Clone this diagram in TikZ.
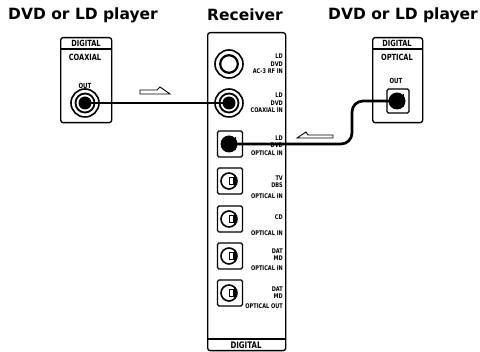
\documentclass[tikz,border=0pt]{standalone}
\usepackage{fontspec}
\setmainfont{DejaVu Sans}
\newfontfamily\tinyf{DejaVu Sans}[FakeStretch=0.78]
\begin{document}
\begin{tikzpicture}[x=1pt,y=-1pt,
  title/.style={font=\fontsize{15.5}{16}\selectfont\bfseries, inner sep=0},
  lbl/.style={font=\tinyf\fontsize{6.4}{7.4}\selectfont\bfseries, align=right, anchor=east, inner sep=0},
  hdr/.style={font=\tinyf\fontsize{8.5}{8.5}\selectfont\bfseries, inner sep=0},
  panel/.style={draw, line width=1.3pt, rounded corners=2.5pt},
  cable/.style={line width=2.7pt},
  coaxjack/.style={circle, draw, line width=1.6pt, fill=white, minimum size=28pt, inner sep=0},
  optbox/.style={draw, line width=1.3pt, rounded corners=1.5pt, fill=white, minimum width=25pt, minimum height=26pt, inner sep=0},
  arrowshape/.style={draw, fill=white, line width=0.9pt, line join=miter},
  optempty/.pic={
    \draw[line width=1.6pt] (-1,0) circle[radius=8];
    \draw[line width=1.3pt] (5,-6) -- (5,6);
    \draw[line width=1pt] (-1,-3.5) rectangle (3,3.5);
  },
  optfull/.pic={
    \fill (-1,0) circle[radius=8.5];
    \draw[line width=1.3pt] (5.5,-6.5) -- (5.5,6.5);
  }
]
\useasboundingbox (0,0) rectangle (480,352);

% titles
\node[title] (t1) at (83,15) {DVD or LD player};
\node[title] (t2) at (245,15) {Receiver};
\node[title] (t3) at (403,15) {DVD or LD player};

% left player
\node[panel, minimum width=51pt, minimum height=85pt, anchor=north west] (lp) at (60,37) {};
\draw[line width=1.2pt] (lp.north west |- 0,49) -- (lp.north east |- 0,49);
\node[hdr] (lpd) at (86,43) {DIGITAL};
\node[hdr] (lpc) at (85,57) {COAXIAL};
\node[hdr, font=\tinyf\fontsize{7}{7}\selectfont\bfseries] (lpo) at (85,86) {OUT};
\node[coaxjack] (ljack) at (85,103) {};
\draw[line width=1.8pt] (ljack.center) circle[radius=9.5];

% right player
\node[panel, minimum width=50pt, minimum height=85pt, anchor=north west] (rp) at (372,37) {};
\draw[line width=1.2pt] (rp.north west |- 0,49) -- (rp.north east |- 0,49);
\node[hdr] (rpd) at (397,43) {DIGITAL};
\node[hdr] (rpc) at (397,57) {OPTICAL};
\node[hdr, font=\tinyf\fontsize{7}{7}\selectfont\bfseries] (rpo) at (396,81) {OUT};
\node[optbox, minimum width=22pt, minimum height=24pt] (rjack) at (398,101) {};

% receiver panel
\node[panel, minimum width=78pt, minimum height=318pt, anchor=north west] (rcv) at (207,32) {};
\draw[line width=1.2pt] (rcv.south west |- 0,339) -- (rcv.south east |- 0,339);
\node[hdr, font=\tinyf\fontsize{9}{9}\selectfont\bfseries] (rcvd) at (246,345) {DIGITAL};

% receiver jacks
\node[coaxjack] (rac) at (229,64) {};
\draw[line width=2.2pt] (rac.center) circle[radius=8.8];
\node[coaxjack] (rcoax) at (229,103) {};
\draw[line width=1.8pt] (rcoax.center) circle[radius=9.5];

\node[optbox] (o1) at (230,144) {};
\node[optbox] (o2) at (230,181) {};
\node[optbox] (o3) at (230,219) {};
\node[optbox] (o4) at (230,256) {};
\node[optbox] (o5) at (230,293) {};
\pic at (o2.center) {optempty};
\pic at (o3.center) {optempty};
\pic at (o4.center) {optempty};
\pic at (o5.center) {optempty};

% labels
\node[lbl] (l1) at (283,64) {LD\\DVD\\AC-3 RF IN};
\node[lbl] (l2) at (283,103) {LD\\DVD\\COAXIAL IN};
\node[lbl] (l3) at (283,145.5) {LD\\DVD\\OPTICAL IN};
\node[lbl] (l4) at (283,187) {TV\\DBS\\[3pt]OPTICAL IN};
\node[lbl] (l5) at (283,225) {CD\\[8pt]OPTICAL IN};
\node[lbl] (l6) at (283,259.5) {DAT\\MD\\[2pt]OPTICAL IN};
\node[lbl] (l7) at (283,297.5) {DAT\\MD\\[2pt]OPTICAL OUT};

% cables
\draw[cable] (ljack.center) -- (rcoax.center);
\fill (ljack.center) circle[radius=6.5];
\fill (rcoax.center) circle[radius=6.5];
\draw[cable, rounded corners=11pt] (o1.center) -- (352,144) -- (352,101) -- (rjack.center);
\pic at (o1.center) {optfull};
\pic at (rjack.center) {optfull};

% signal arrows
\coordinate (a1) at (140,90);
\draw[arrowshape] (a1) -- ++(17,0) -- ++(3,-3) -- ++(10,7) -- ++(-30,0) -- cycle;
\coordinate (a2) at (297,138);
\draw[arrowshape] (a2) -- ++(9,-6) -- ++(2,3) -- ++(25,0) -- ++(0,3) -- cycle;
\end{tikzpicture}
\end{document}
